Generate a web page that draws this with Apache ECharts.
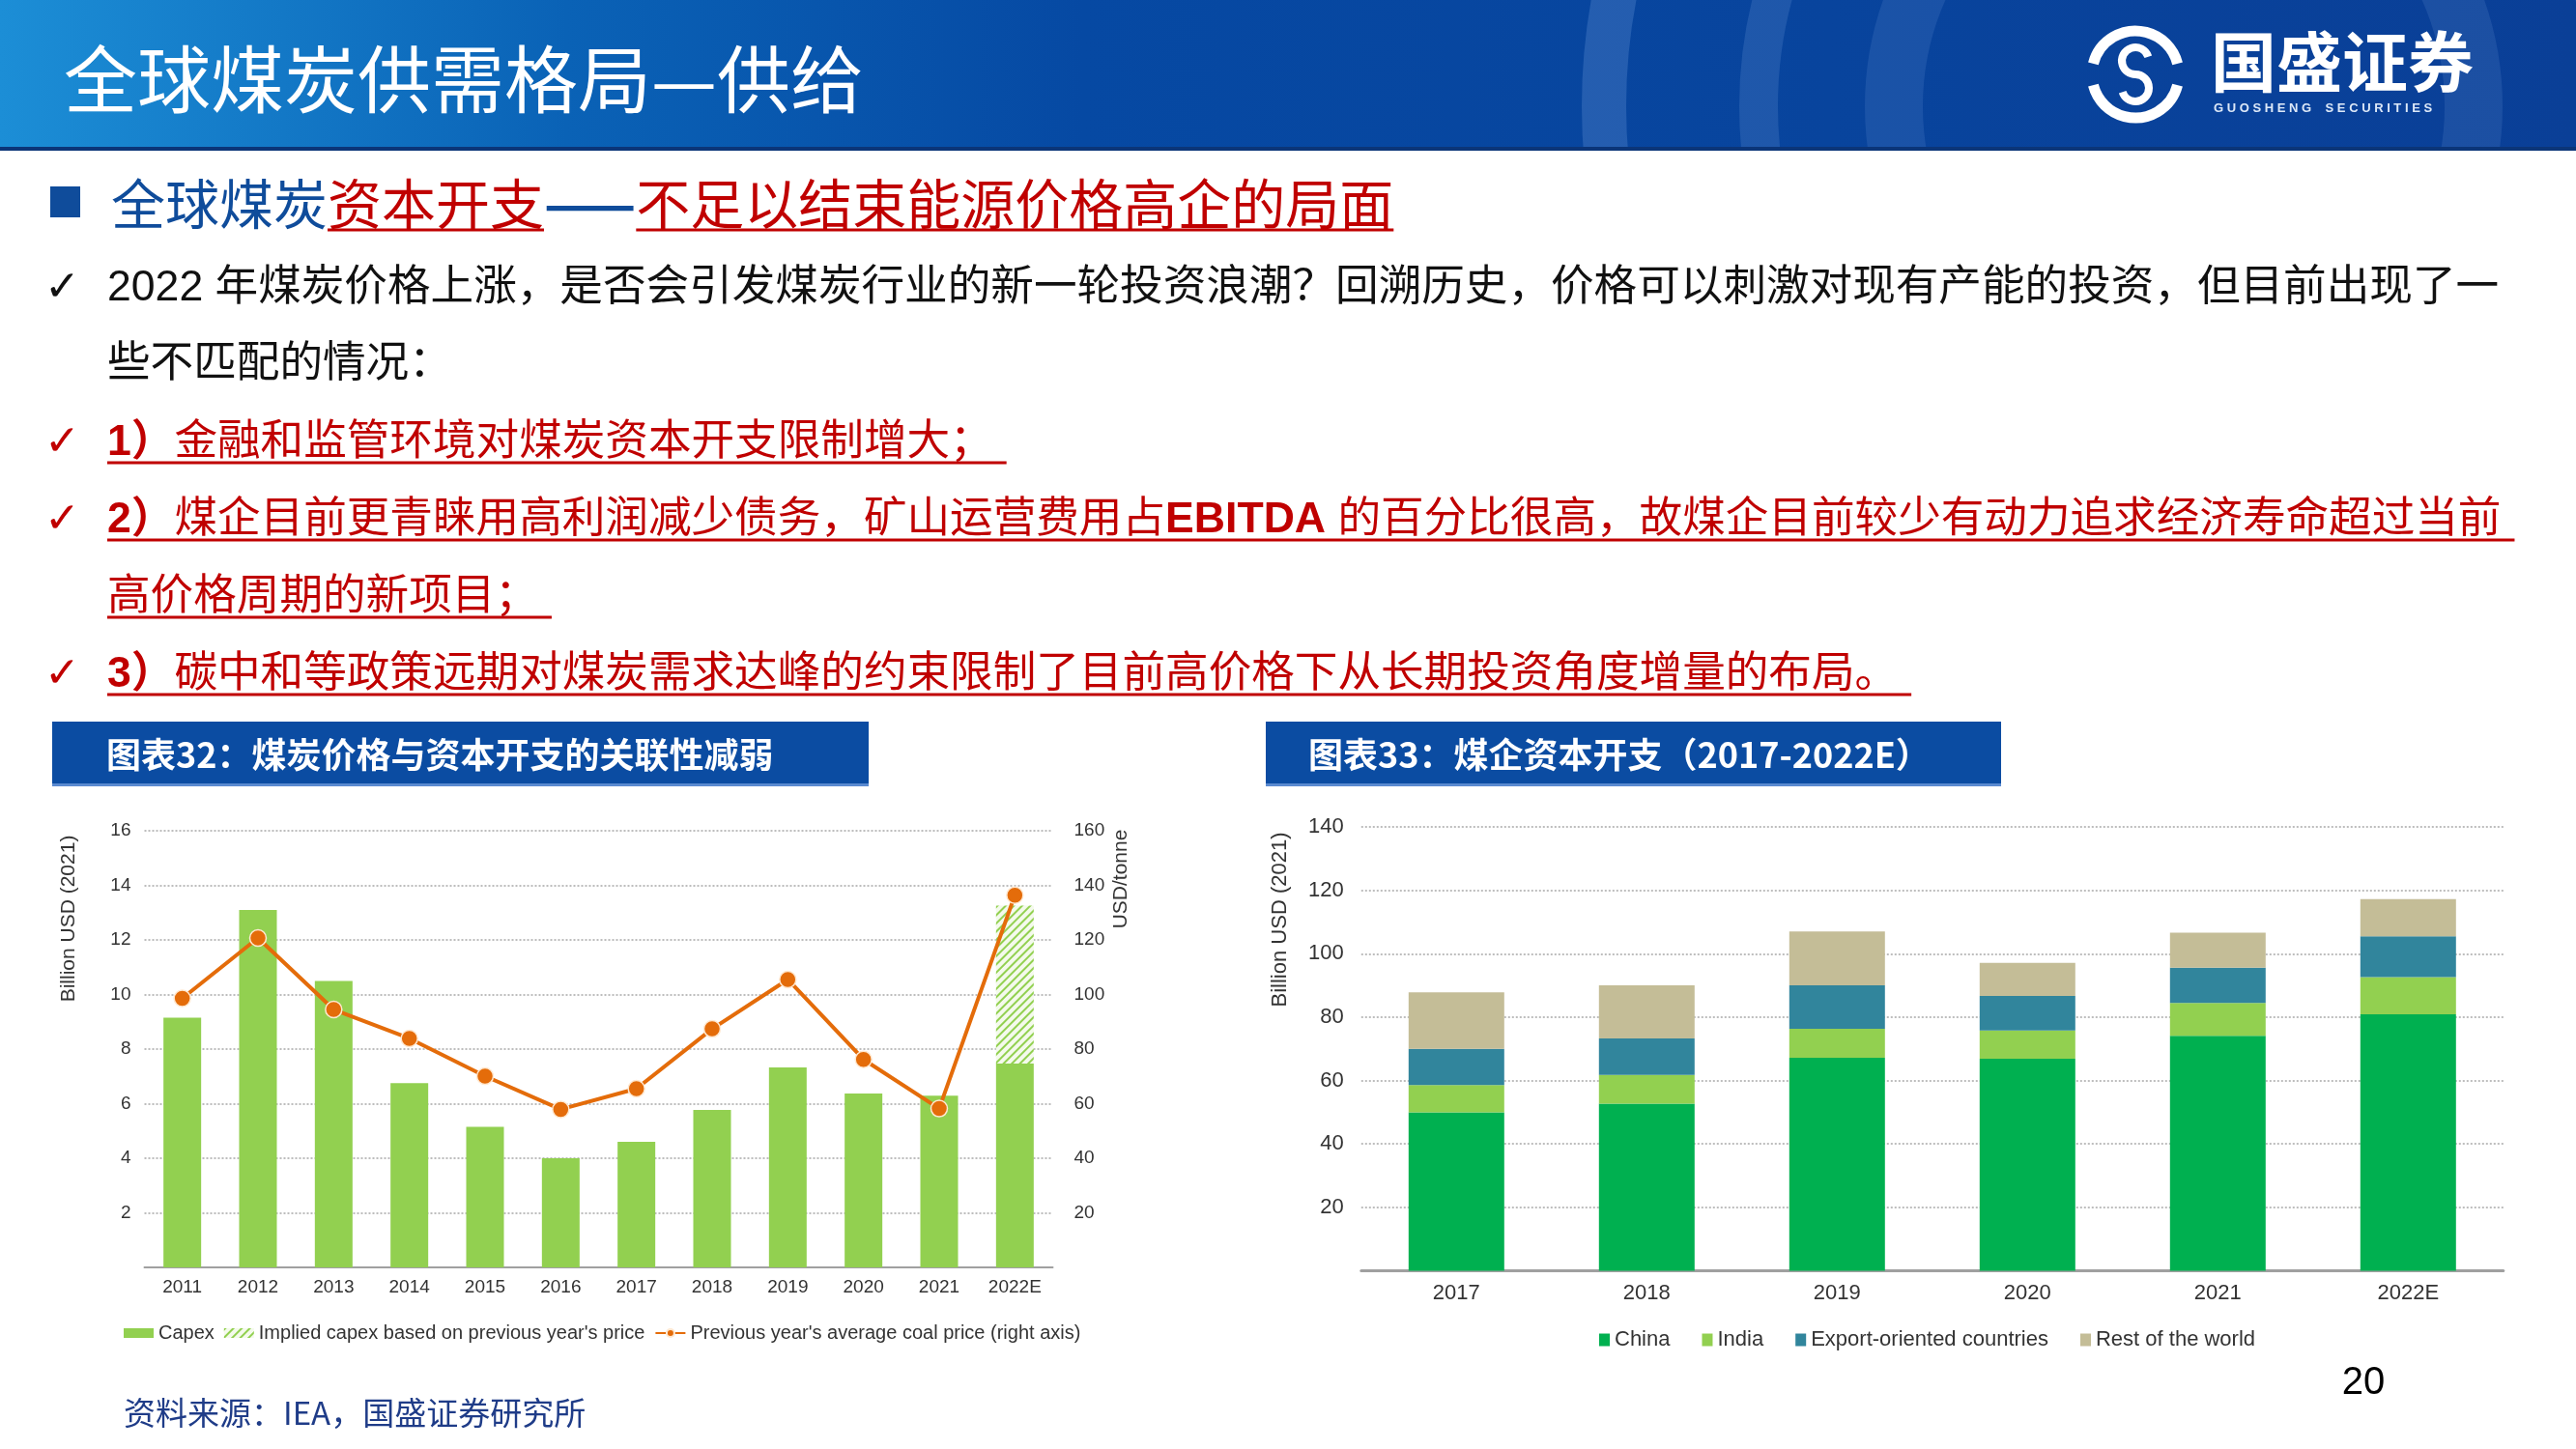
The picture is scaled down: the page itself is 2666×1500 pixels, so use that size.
<!DOCTYPE html>
<html><head><meta charset="utf-8">
<script src="https://cdn.jsdelivr.net/npm/echarts@6/dist/echarts.min.js"></script>
<style>html,body{margin:0;padding:0;background:#fff}#c{width:2666px;height:1500px}</style>
</head><body><div id="c"></div>
<script>
// ---------- data ----------
const capexYears = ['2011','2012','2013','2014','2015','2016','2017','2018','2019','2020','2021','2022E'];
const capex = [9.15, 13.1, 10.5, 6.75, 5.15, 4.0, 4.6, 5.77, 7.33, 6.37, 6.29, 7.47];
const impliedCapex = [null, null, null, null, null, null, null, null, null, null, null, 5.79];
const coalPrice = [98.6, 120.7, 94.5, 83.9, 70.1, 57.9, 65.5, 87.4, 105.5, 76.2, 58.2, 136.4];
const regionYears = ['2017','2018','2019','2020','2021','2022E'];
const china = [50.0, 52.7, 67.2, 66.9, 74.1, 80.9];
const india = [8.6, 9.1, 9.1, 8.9, 10.4, 11.7];
const exportOriented = [11.4, 11.5, 13.7, 10.9, 11.1, 12.9];
const restOfWorld = [17.8, 16.7, 17.0, 10.4, 11.0, 11.7];
const seriesNames1 = ['Capex', "Implied capex based on previous year's price", "Previous year's average coal price (right axis)"];
const seriesNames2 = ['China', 'India', 'Export-oriented countries', 'Rest of the world'];

const pageTitle = '全球煤炭供需格局—供给';
const subParts = [['全球煤炭', '#0F4C9B', false, false], ['资本开支', '#C00000', true, false], ['——', '#0F4C9B', false, true], ['不足以结束能源价格高企的局面', '#C00000', true, false]];
const bulletLines = [
  {check: true, color: '#111', segs: [['2022 年煤炭价格上涨，是否会引发煤炭行业的新一轮投资浪潮？回溯历史，价格可以刺激对现有产能的投资，但目前出现了一', false]], ul: false},
  {check: false, color: '#111', segs: [['些不匹配的情况：', false]], ul: false},
  {check: true, color: '#C00000', segs: [['1）', true], ['金融和监管环境对煤炭资本开支限制增大；', false]], ul: true},
  {check: true, color: '#C00000', segs: [['2）', true], ['煤企目前更青睐用高利润减少债务，矿山运营费用占', false], ['EBITDA', true], [' 的百分比很高，故煤企目前较少有动力追求经济寿命超过当前', false]], ul: true},
  {check: false, color: '#C00000', segs: [['高价格周期的新项目；', false]], ul: true},
  {check: true, color: '#C00000', segs: [['3）', true], ['碳中和等政策远期对煤炭需求达峰的约束限制了目前高价格下从长期投资角度增量的布局。', false]], ul: true}
];
const chartTitle1 = '图表32：煤炭价格与资本开支的关联性减弱';
const chartTitle2 = '图表33：煤企资本开支（2017-2022E）';
const sourceText = '资料来源：IEA，国盛证券研究所';
const pageNo = '20';

// ---------- helpers ----------
const FF = '"Liberation Sans", Arial, "Noto Sans CJK SC", sans-serif';
const CJK = '"Noto Sans CJK SC", sans-serif';
const mctx = document.createElement('canvas').getContext('2d');
function tw(t, font) { mctx.font = font; return mctx.measureText(t).width; }
function txt(text, x, y, o) {
  o = o || {};
  const st = Object.assign({
    text: text, x: x, y: y, fill: o.fill || '#000',
    font: o.font || ('20px ' + FF),
    textAlign: o.align || 'left', textVerticalAlign: o.valign || 'middle',
    align: o.align || 'left', verticalAlign: o.valign || 'middle'
  }, o.extra || {});
  const el = {type: 'text', style: st, z: o.z || 10, silent: true};
  if (o.rotation) { el.rotation = o.rotation; el.x = x; el.y = y; st.x = 0; st.y = 0; }
  return el;
}

const G = [];
// header band
G.push({type: 'rect', shape: {x: 0, y: 0, width: 2666, height: 156}, z: 1, silent: true,
  style: {fill: {type: 'linear', x: 0, y: 0, x2: 1, y2: 0, colorStops: [
    {offset: 0, color: '#1C8ED6'}, {offset: 0.22, color: '#0A62B6'}, {offset: 0.42, color: '#0649A3'}, {offset: 1, color: '#0A3F97'}]}}});
// decorative arcs
[[2260, 110, 600, 46, 0.22], [2260, 110, 440, 40, 0.18], [2260, 110, 300, 60, 0.14]].forEach(a => {
  G.push({type: 'circle', shape: {cx: a[0], cy: a[1], r: a[2]}, z: 2, silent: true,
    style: {fill: 'none', stroke: 'rgba(140,180,235,' + a[4] + ')', lineWidth: a[3]}});
});
G.push({type: 'rect', shape: {x: 0, y: 156, width: 2666, height: 600}, z: 3, silent: true, style: {fill: '#fff'}});
G.push({type: 'rect', shape: {x: 0, y: 152, width: 2666, height: 4}, z: 3, silent: true, style: {fill: '#0B3578'}});
G.push(txt(pageTitle, 66, 82, {font: '76px ' + CJK, fill: '#fff', z: 5}));
// logo
const lcx = 2210, lcy = 77;
G.push({type: 'arc', shape: {cx: lcx, cy: lcy, r: 45, startAngle: 0.08 * Math.PI, endAngle: 0.92 * Math.PI}, z: 5, silent: true, style: {stroke: '#fff', lineWidth: 11, fill: 'none'}});
G.push({type: 'arc', shape: {cx: lcx, cy: lcy, r: 45, startAngle: 1.08 * Math.PI, endAngle: 1.92 * Math.PI}, z: 5, silent: true, style: {stroke: '#fff', lineWidth: 11, fill: 'none'}});
G.push({type: 'arc', shape: {cx: lcx, cy: lcy - 14, r: 14, startAngle: 1.9 * Math.PI, endAngle: 0.5 * Math.PI, clockwise: false}, z: 5, silent: true, style: {stroke: '#fff', lineWidth: 8, fill: 'none'}});
G.push({type: 'arc', shape: {cx: lcx, cy: lcy + 14, r: 14, startAngle: 1.5 * Math.PI, endAngle: 0.9 * Math.PI, clockwise: true}, z: 5, silent: true, style: {stroke: '#fff', lineWidth: 8, fill: 'none'}});
G.push(txt('国盛证券', 2288, 64, {font: 'bold 68px ' + CJK, fill: '#fff', z: 5}));
G.push(txt('G U O S H E N G    S E C U R I T I E S', 2291, 112, {font: 'bold 13px ' + FF, fill: '#DCE8F8', z: 5}));

// subtitle
G.push({type: 'rect', shape: {x: 52, y: 193, width: 31, height: 32}, z: 10, silent: true, style: {fill: '#0F4C9B'}});
let sx = 115;
subParts.forEach(p => {
  const f = (p[3] ? 'bold ' : '') + '56px ' + CJK;
  const w = tw(p[0], f);
  G.push(txt(p[0], sx, 211, {font: f, fill: p[1]}));
  if (p[2]) G.push({type: 'line', shape: {x1: sx, y1: 238, x2: sx + w, y2: 238}, z: 10, silent: true, style: {stroke: '#C00000', lineWidth: 3}});
  sx += w;
});

// bullets
const lineYs = [299, 378, 459, 539, 619, 699];
const bfs = 44.6;
bulletLines.forEach((ln, i) => {
  const y = lineYs[i];
  if (ln.check) G.push(txt('✓', 46, y + 1, {font: 'bold 44px "DejaVu Sans"', fill: ln.color}));
  let text = '';
  let total = 0;
  ln.segs.forEach(s => {
    const f = (s[1] ? 'bold ' : '') + bfs + 'px ' + FF;
    total += tw(s[0], f);
    text += s[1] ? '{b|' + s[0] + '}' : '{n|' + s[0] + '}';
  });
  G.push({type: 'text', z: 10, silent: true, style: {
    text: text, x: 111, y: y, fill: ln.color, fontSize: bfs, fontFamily: FF,
    textVerticalAlign: 'middle', verticalAlign: 'middle', textAlign: 'left', align: 'left',
    rich: {b: {fontWeight: 'bold', fontSize: bfs, fontFamily: FF, fill: ln.color}, n: {fontWeight: 'normal', fontSize: bfs, fontFamily: FF, fill: ln.color}}
  }});
  if (ln.ul) G.push({type: 'line', shape: {x1: 111, y1: y + 20, x2: 111 + total + 14, y2: y + 20}, z: 10, silent: true, style: {stroke: '#C00000', lineWidth: 3}});
});

// chart title boxes
G.push({type: 'rect', shape: {x: 54, y: 747, width: 845, height: 66}, z: 10, silent: true, style: {fill: '#0B4CA2'}});
G.push({type: 'rect', shape: {x: 54, y: 811, width: 845, height: 3}, z: 10, silent: true, style: {fill: '#5A8AD0'}});
G.push(txt(chartTitle1, 110, 781, {font: 'bold 36px ' + CJK, fill: '#fff', z: 11}));
G.push({type: 'rect', shape: {x: 1310, y: 747, width: 761, height: 66}, z: 10, silent: true, style: {fill: '#0B4CA2'}});
G.push({type: 'rect', shape: {x: 1310, y: 811, width: 761, height: 3}, z: 10, silent: true, style: {fill: '#5A8AD0'}});
G.push(txt(chartTitle2, 1354, 781, {font: 'bold 36px ' + CJK, fill: '#fff', z: 11}));

// axis names
G.push(txt('Billion USD (2021)', 71, 951, {font: '21px ' + FF, fill: '#333', align: 'center', rotation: Math.PI / 2}));
G.push(txt('USD/tonne', 1160, 910, {font: '21px ' + FF, fill: '#333', align: 'center', rotation: Math.PI / 2}));
G.push(txt('Billion USD (2021)', 1325, 952, {font: '22px ' + FF, fill: '#333', align: 'center', rotation: Math.PI / 2}));

// footer
G.push(txt(sourceText, 128, 1462, {font: '33px ' + CJK, fill: '#1F3C88'}));
G.push(txt(pageNo, 2446, 1432, {font: '40px ' + FF, fill: '#000', align: 'center'}));

const grid1 = {left: 149.5, top: 860, width: 940, height: 452};
const grid2 = {left: 1408.8, top: 856, width: 1182, height: 459.5};
const labelStyle = {color: '#333', fontFamily: FF};
const split = {show: true, lineStyle: {color: '#A8A8A8', type: [2, 2], width: 1.5}};

const option = {
  animation: false,
  backgroundColor: '#fff',
  graphic: {elements: G},
  grid: [Object.assign({containLabel: false}, grid1), Object.assign({containLabel: false}, grid2)],
  legend: [
    {left: 128, top: 1370, padding: 0, itemGap: 10, itemWidth: 31, itemHeight: 10,
      textStyle: {fontSize: 20, color: '#333', fontFamily: FF},
      data: [{name: seriesNames1[0], icon: 'rect'}, {name: seriesNames1[1], icon: 'rect'}, {name: seriesNames1[2]}]},
    {left: 1655, top: 1376, padding: 0, itemGap: 33, itemWidth: 11, itemHeight: 13, icon: 'rect',
      textStyle: {fontSize: 22, color: '#333', fontFamily: FF}, data: seriesNames2}
  ],
  xAxis: [
    {type: 'category', gridIndex: 0, data: capexYears, axisTick: {show: false},
      axisLine: {lineStyle: {color: '#A0A0A0', width: 2}}, axisLabel: Object.assign({fontSize: 19, margin: 11}, labelStyle)},
    {type: 'category', gridIndex: 1, data: regionYears, axisTick: {show: false},
      axisLine: {lineStyle: {color: '#A0A0A0', width: 3}}, axisLabel: Object.assign({fontSize: 22, margin: 12}, labelStyle)}
  ],
  yAxis: [
    {type: 'value', gridIndex: 0, min: 0, max: 16, interval: 2, splitLine: split, axisLine: {show: false}, axisTick: {show: false},
      axisLabel: Object.assign({fontSize: 19, margin: 14, formatter: v => v === 0 ? '' : v}, labelStyle)},
    {type: 'value', gridIndex: 0, position: 'right', min: 0, max: 160, interval: 20, splitLine: {show: false}, axisLine: {show: false}, axisTick: {show: false},
      axisLabel: Object.assign({fontSize: 19, margin: 22, formatter: v => v === 0 ? '' : v}, labelStyle)},
    {type: 'value', gridIndex: 1, min: 0, max: 140, interval: 20, splitLine: split, axisLine: {show: false}, axisTick: {show: false},
      axisLabel: Object.assign({fontSize: 22, margin: 18, formatter: v => v === 0 ? '' : v}, labelStyle)}
  ],
  series: [
    {name: seriesNames1[0], type: 'bar', xAxisIndex: 0, yAxisIndex: 0, stack: 'cap', barWidth: 39, data: capex, itemStyle: {color: '#92D050'}},
    {name: seriesNames1[1], type: 'bar', xAxisIndex: 0, yAxisIndex: 0, stack: 'cap', barWidth: 39, data: impliedCapex,
      itemStyle: {color: '#F4FAEC', decal: {symbol: 'rect', color: '#92D050', dashArrayX: [1, 0], dashArrayY: [2, 4], rotation: -Math.PI / 4}}},
    {name: seriesNames1[2], type: 'line', xAxisIndex: 0, yAxisIndex: 1, data: coalPrice, symbol: 'circle', symbolSize: 17,
      lineStyle: {color: '#E46C0A', width: 4}, itemStyle: {color: '#E46C0A', borderColor: '#FFE8D0', borderWidth: 1.5}, z: 5},
    {name: seriesNames2[0], type: 'bar', xAxisIndex: 1, yAxisIndex: 2, stack: 'r', barWidth: 99, data: china, itemStyle: {color: '#00B050'}},
    {name: seriesNames2[1], type: 'bar', xAxisIndex: 1, yAxisIndex: 2, stack: 'r', barWidth: 99, data: india, itemStyle: {color: '#92D050'}},
    {name: seriesNames2[2], type: 'bar', xAxisIndex: 1, yAxisIndex: 2, stack: 'r', barWidth: 99, data: exportOriented, itemStyle: {color: '#31859C'}},
    {name: seriesNames2[3], type: 'bar', xAxisIndex: 1, yAxisIndex: 2, stack: 'r', barWidth: 99, data: restOfWorld, itemStyle: {color: '#C4BD97'}}
  ]
};
const chart = echarts.init(document.getElementById('c'), null, {renderer: 'canvas'});
chart.setOption(option);
</script></body></html>
